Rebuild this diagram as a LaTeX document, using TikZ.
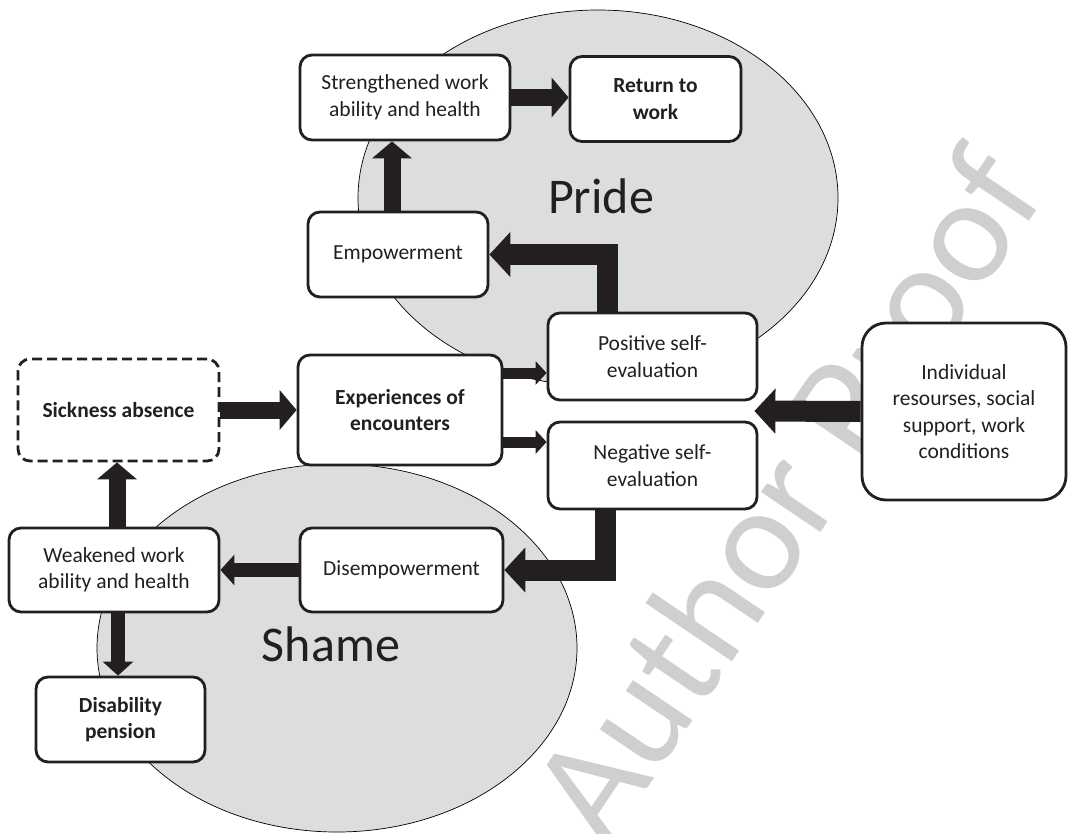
\documentclass[tikz,border=0pt]{standalone}
\usepackage{fontspec}
\setmainfont{Carlito}
\usetikzlibrary{calc, arrows.meta}
\definecolor{Ink}{HTML}{231F20}
\definecolor{Mist}{HTML}{DCDDDF}
\definecolor{Stamp}{HTML}{CFCFCF}

\tikzset{
  box/.style={fill=white, draw=Ink, text=Ink, line width=2.8pt, rounded corners=12pt,
    align=center, inner sep=0pt, font=\fontsize{21.5}{26.5}\selectfont},
  emotion/.style={fill=Mist, draw=black, line width=0.7pt},
  bigword/.style={text=Ink, font=\fontsize{50}{60}\selectfont},
  fatarrow/.style={draw=Ink, line width=21pt, line join=miter, -{Triangle[length=21pt,width=44pt]}},
  midarrow/.style={draw=Ink, line width=17pt, -{Triangle[length=17pt,width=39pt]}},
  slimarrow/.style={draw=Ink, line width=14pt, -{Triangle[length=14pt,width=30pt]}},
  tinyarrow/.style={draw=Ink, line width=11pt, -{Triangle[length=11pt,width=23pt]}}
}

\begin{document}
\begin{tikzpicture}[x=1pt, y=-1pt]
  \useasboundingbox (0,0) rectangle (1068,833);

  % watermark
  \begin{scope}
    \clip (0,0) rectangle (1068,833);
    \node[text=Stamp, rotate=56, anchor=base west, inner sep=0pt,
      font=\fontsize{150}{150}\selectfont] (stamp) at (606,850) {Author Proof};
  \end{scope}

  % the two emotions
  \draw[emotion] (598,198) ellipse [x radius=240, y radius=188];
  \draw[emotion] (337,648) ellipse [x radius=240, y radius=184];
  \node[bigword] (pride) at (601,196) {Pride};
  \node[bigword] (shame) at (331,644) {Shame};

  % boxes
  \node[box, minimum width=210pt, minimum height=85pt] (str) at (405,97.5) {Strengthened work\\ability and health};
  \node[box, minimum width=171pt, minimum height=85pt] (ret) at (655.5,99) {\textbf{Return to}\\\textbf{work}};
  \node[box, minimum width=180pt, minimum height=85pt] (emp) at (398,254.5) {Empowerment};
  \node[box, minimum width=209pt, minimum height=87pt] (pos) at (652.5,356.5) {Positive self-\\evaluation};
  \node[box, minimum width=209pt, minimum height=87pt] (neg) at (652.5,465.5) {Negative self-\\evaluation};
  \node[box, minimum width=204pt, minimum height=177pt, rounded corners=24pt] (ind) at (964,411.5) {Individual\\resourses, social\\support, work\\conditions};
  \node[box, minimum width=201pt, minimum height=102pt, dash pattern=on 10pt off 5pt] (sick) at (118.5,410) {\textbf{Sickness absence}};
  \node[box, minimum width=204pt, minimum height=110pt] (exp) at (400,410) {\textbf{Experiences of}\\\textbf{encounters}};
  \node[box, minimum width=210pt, minimum height=84pt] (weak) at (114,570) {Weakened work\\ability and health};
  \node[box, minimum width=203pt, minimum height=84pt] (dis) at (401.5,570) {Disempowerment};
  \node[box, minimum width=169pt, minimum height=85pt] (disab) at (120.5,719.5) {\textbf{Disability}\\\textbf{pension}};

  \coordinate (gap) at ($(pos.south east)!.5!(neg.north east)$);

  % arrows
  \draw[midarrow] (sick.east) -- (sick.east -| exp.west);
  \draw[tinyarrow] ([yshift=37pt]exp.east) -- ([yshift=37pt]exp.east -| pos.west);
  \draw[tinyarrow] ([yshift=-32pt]exp.east) -- ([yshift=-32pt]exp.east -| neg.west);
  \draw[fatarrow] (ind.west) -- ([xshift=-4pt]gap);
  \draw[fatarrow] ([xshift=-45.5pt]pos.north) |- (emp.east);
  \draw[midarrow] ([xshift=-6pt]emp.north) -- ([xshift=-6pt]emp.north |- str.south);
  \draw[midarrow] (str.east) -- (str.east -| ret.west);
  \draw[fatarrow] ([xshift=-47.5pt]neg.south) |- (dis.east);
  \draw[slimarrow] (dis.west) -- (dis.west -| weak.east);
  \draw[midarrow] ([xshift=3pt]weak.north) -- ([xshift=3pt]weak.north |- sick.south);
  \draw[slimarrow] ([xshift=4pt]weak.south) -- ([xshift=4pt]weak.south |- disab.north);
\end{tikzpicture}
\end{document}
